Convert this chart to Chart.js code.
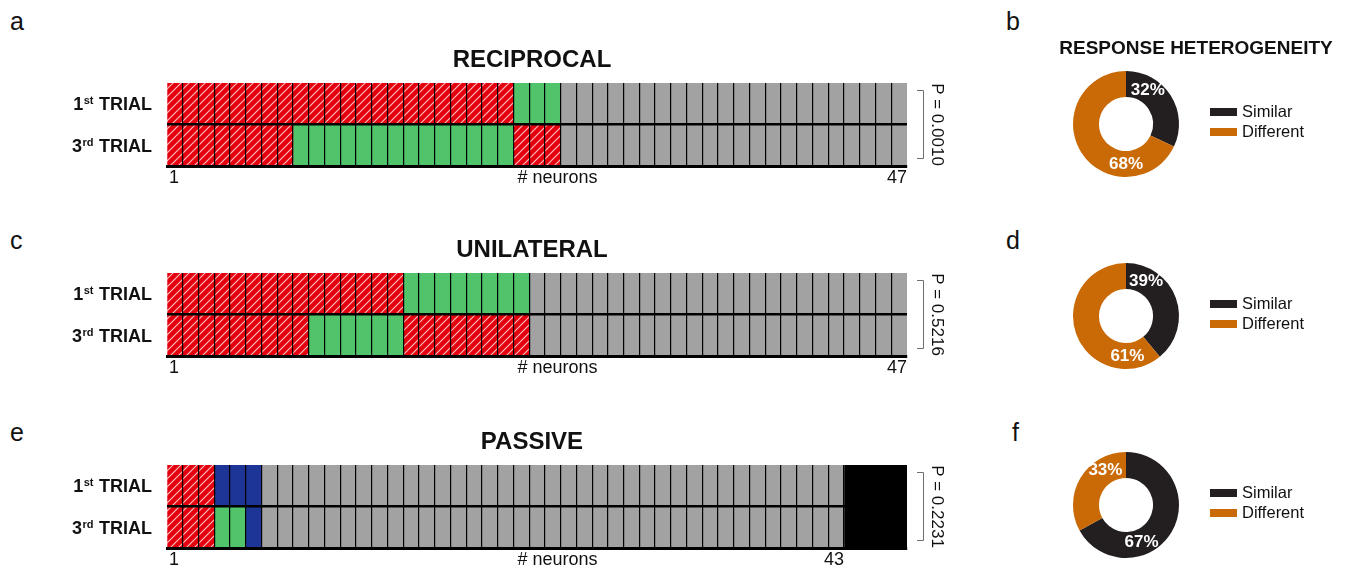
<!DOCTYPE html>
<html>
<head>
<meta charset="utf-8">
<script src="https://cdn.jsdelivr.net/npm/chart.js@4.4.1/dist/chart.umd.min.js"></script>
<style>
  html, body { margin: 0; padding: 0; background: #fff; }
  body { width: 1347px; height: 571px; position: relative; overflow: hidden;
         font-family: "Liberation Sans", Arial, Helvetica, sans-serif; }
  canvas { position: absolute; }
  .tag { position: absolute; font-size: 25px; line-height: 1; color: #111; }
</style>
</head>
<body>
<div class="tag" style="left:10px;top:9px">a</div>
<div class="tag" style="left:10px;top:228px">c</div>
<div class="tag" style="left:10px;top:420px">e</div>
<div class="tag" style="left:1006px;top:9px">b</div>
<div class="tag" style="left:1006px;top:228px">d</div>
<div class="tag" style="left:1012px;top:420px">f</div>

<canvas id="barReciprocal" width="1000" height="190" style="left:0;top:0"></canvas>
<canvas id="barUnilateral" width="1000" height="190" style="left:0;top:190px"></canvas>
<canvas id="barPassive" width="1000" height="190" style="left:0;top:382px"></canvas>
<canvas id="pieReciprocal" width="347" height="190" style="left:1000px;top:0"></canvas>
<canvas id="pieUnilateral" width="347" height="190" style="left:1000px;top:190px"></canvas>
<canvas id="piePassive" width="347" height="190" style="left:1000px;top:382px"></canvas>

<script>
// ---- data ----------------------------------------------------------------
// Trial rows and the number of neuron slots on the x axis
const trialLabels = ['1st TRIAL', '3rd TRIAL'];
const neuronSlots = 47;

// Per-neuron response class, as runs of [class, count], left to right.
// R = hatched red, G = green, B = blue, N = grey, X = black block
const reciprocalFirst = [['R', 22], ['G', 3], ['N', 22]];
const reciprocalThird = [['R', 8], ['G', 14], ['R', 3], ['N', 22]];
const unilateralFirst = [['R', 15], ['G', 8], ['N', 24]];
const unilateralThird = [['R', 9], ['G', 6], ['R', 8], ['N', 24]];
const passiveFirst = [['R', 3], ['B', 3], ['N', 37], ['X', 4]];
const passiveThird = [['R', 3], ['G', 2], ['B', 1], ['N', 37], ['X', 4]];

const panelTitles = ['RECIPROCAL', 'UNILATERAL', 'PASSIVE'];
const neuronTotals = [47, 47, 43];
const pValues = ['0.0010', '0.5216', '0.2231'];

// Response heterogeneity (%)
const shareLabels = ['Similar', 'Different'];
const reciprocalShare = [32, 68];
const unilateralShare = [39, 61];
const passiveShare = [67, 33];

// ---- styling -------------------------------------------------------------
const FONT = '"Liberation Sans", Arial, Helvetica, sans-serif';

function hatchPattern(base) {
  const s = 8;
  const c = document.createElement('canvas');
  c.width = s; c.height = s;
  const g = c.getContext('2d');
  g.fillStyle = base;
  g.fillRect(0, 0, s, s);
  g.strokeStyle = 'rgba(255,215,215,0.9)';
  g.lineWidth = 1.1;
  g.beginPath();
  g.moveTo(0, s); g.lineTo(s, 0);
  g.moveTo(-1, 1); g.lineTo(1, -1);
  g.moveTo(s - 1, s + 1); g.lineTo(s + 1, s - 1);
  g.stroke();
  return g.createPattern(c, 'repeat');
}

const classColors = {
  R: hatchPattern('#e5000e'),
  G: '#50c36b',
  B: '#1c3597',
  N: '#a2a2a2',
  X: '#000000'
};
const shareColors = ['#231f20', '#c96a07'];

function expandRuns(runs) {
  const cells = [];
  runs.forEach(([cls, n]) => { for (let i = 0; i < n; i++) cells.push(cls); });
  return cells;
}

// ---- bar panels ----------------------------------------------------------
function drawTrialLabel(ctx, text, right, baseline) {
  const m = text.match(/^(\d+)(\D+?) (.*)$/);
  const big = 'bold 18px ' + FONT, small = 'bold 11px ' + FONT;
  ctx.font = big;
  const wNum = ctx.measureText(m[1]).width;
  const wRest = ctx.measureText(' ' + m[3]).width;
  ctx.font = small;
  const wSup = ctx.measureText(m[2]).width;
  let x = right - (wNum + wSup + wRest);
  ctx.textAlign = 'left';
  ctx.textBaseline = 'alphabetic';
  ctx.font = big;
  ctx.fillText(m[1], x, baseline); x += wNum;
  ctx.font = small;
  ctx.fillText(m[2], x + 0.5, baseline - 6); x += wSup + 1;
  ctx.font = big;
  ctx.fillText(' ' + m[3], x, baseline);
}

const panelDecor = {
  id: 'panelDecor',
  afterDraw(chart, args, opts) {
    const { ctx, chartArea: a } = chart;
    const xs = chart.scales.x, ys = chart.scales.y;
    ctx.save();
    ctx.fillStyle = '#111';

    // panel title
    ctx.font = 'bold 24px ' + FONT;
    ctx.textAlign = 'center';
    ctx.textBaseline = 'alphabetic';
    ctx.fillText(opts.title, (a.left + a.right) / 2 - 5, a.top - 16);

    // trial row labels
    chart.data.labels.forEach((lab, i) => {
      drawTrialLabel(ctx, lab, a.left - 16, ys.getPixelForValue(i) + 6.5);
    });

    // neuron axis labels
    ctx.font = '18px ' + FONT;
    ctx.textBaseline = 'middle';
    const ly = a.bottom + 12;
    ctx.textAlign = 'left';
    ctx.fillText('1', xs.getPixelForValue(0) + 2, ly);
    ctx.textAlign = 'center';
    ctx.fillText('# neurons', xs.getPixelForValue(24.8), ly);
    ctx.textAlign = 'right';
    ctx.fillText(String(opts.total), xs.getPixelForValue(opts.total), ly);

    // bracket + p value
    const bx = a.right + 16, t = a.top + 7, b = a.bottom - 8;
    ctx.strokeStyle = '#6f6f6f';
    ctx.lineWidth = 1;
    ctx.beginPath();
    ctx.moveTo(bx - 6, t + 0.5); ctx.lineTo(bx + 0.5, t + 0.5);
    ctx.lineTo(bx + 0.5, b + 0.5); ctx.lineTo(bx - 6, b + 0.5);
    ctx.stroke();

    ctx.translate(a.right + 30, (a.top + a.bottom) / 2);
    ctx.rotate(Math.PI / 2);
    ctx.font = '17px ' + FONT;
    ctx.textAlign = 'center';
    ctx.textBaseline = 'middle';
    ctx.fillText('P = ' + opts.p, 0, 0);
    ctx.restore();
  }
};

function barPanel(id, first, third, idx) {
  const c1 = expandRuns(first), c3 = expandRuns(third);
  const datasets = c1.map((cls, i) => ({
    data: [1, 1],
    backgroundColor: [classColors[cls], classColors[c3[i]]],
    borderWidth: 0,
    barPercentage: 1,
    categoryPercentage: 1,
    stack: 'cells'
  }));
  new Chart(document.getElementById(id), {
    type: 'bar',
    data: { labels: trialLabels, datasets },
    options: {
      indexAxis: 'y',
      responsive: false,
      animation: false,
      events: [],
      layout: { padding: { left: 167, right: 93, top: 83, bottom: 24 } },
      scales: {
        x: {
          type: 'linear', stacked: true, min: 0, max: neuronSlots,
          ticks: { display: false, stepSize: 1, maxTicksLimit: 200, autoSkip: false },
          grid: {
            z: 1,
            drawTicks: false,
            color: (c) => (c.tick && (c.tick.value === 0 || c.tick.value === neuronSlots))
              ? 'rgba(0,0,0,0)' : '#000',
            lineWidth: 1.2
          },
          border: { display: true, color: '#000', width: 3, z: 2 }
        },
        y: {
          stacked: true,
          ticks: { display: false },
          grid: {
            z: 1,
            drawTicks: false, offset: true,
            color: (c) => c.index === 1 ? '#000' : 'rgba(0,0,0,0)',
            lineWidth: 2.5
          },
          border: { display: false }
        }
      },
      plugins: {
        legend: { display: false },
        tooltip: { enabled: false },
        panelDecor: { title: panelTitles[idx], total: neuronTotals[idx], p: pValues[idx] }
      }
    },
    plugins: [panelDecor]
  });
}

barPanel('barReciprocal', reciprocalFirst, reciprocalThird, 0);
barPanel('barUnilateral', unilateralFirst, unilateralThird, 1);
barPanel('barPassive', passiveFirst, passiveThird, 2);

// ---- doughnuts -----------------------------------------------------------
const donutDecor = {
  id: 'donutDecor',
  afterDraw(chart, args, opts) {
    const { ctx } = chart;
    const meta = chart.getDatasetMeta(0);
    const arc0 = meta.data[0];
    const cx = arc0.x, cy = arc0.y;
    const values = chart.data.datasets[0].data;
    ctx.save();

    if (opts.heading) {
      ctx.fillStyle = '#111';
      ctx.font = 'bold 19px ' + FONT;
      ctx.textAlign = 'center';
      ctx.textBaseline = 'alphabetic';
      ctx.fillText(opts.heading, 196, 54);
    }

    // value labels on the ring
    ctx.fillStyle = '#fff';
    ctx.font = 'bold 17px ' + FONT;
    ctx.textAlign = 'center';
    ctx.textBaseline = 'middle';
    values.forEach((v, i) => {
      const ang = opts.labelAngles[i] * Math.PI / 180;
      ctx.fillText(v + '%', cx + 40 * Math.sin(ang), cy - 40 * Math.cos(ang));
    });

    // legend
    ctx.font = '16.5px ' + FONT;
    ctx.textAlign = 'left';
    chart.data.labels.forEach((lab, i) => {
      const y = cy - 12 + i * 20;
      ctx.fillStyle = chart.data.datasets[0].backgroundColor[i];
      ctx.fillRect(210, y - 4, 27, 8);
      ctx.fillStyle = '#111';
      ctx.fillText(lab, 242, y + 0.5);
    });
    ctx.restore();
  }
};

function donutPanel(id, values, cy, angles, heading) {
  new Chart(document.getElementById(id), {
    type: 'doughnut',
    data: {
      labels: shareLabels,
      datasets: [{ data: values, backgroundColor: shareColors, borderWidth: 0 }]
    },
    options: {
      responsive: false,
      animation: false,
      events: [],
      cutout: '51%',
      layout: { padding: { left: 73, right: 168, top: cy - 53, bottom: 190 - cy - 53 } },
      plugins: {
        legend: { display: false },
        tooltip: { enabled: false },
        donutDecor: { labelAngles: angles, heading }
      }
    },
    plugins: [donutDecor]
  });
}

// label angles are degrees clockwise from 12 o'clock, one per slice
donutPanel('pieReciprocal', reciprocalShare, 124, [33, 180], 'RESPONSE HETEROGENEITY');
donutPanel('pieUnilateral', unilateralShare, 126, [30, 178], '');
donutPanel('piePassive', passiveShare, 123, [157, -31], '');
</script>
</body>
</html>
